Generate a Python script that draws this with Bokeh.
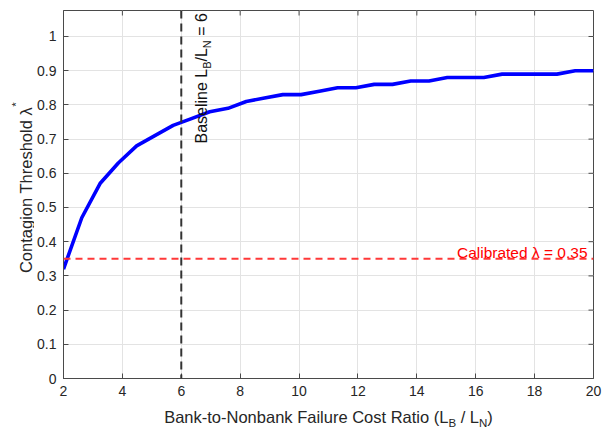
import math
from bokeh.plotting import figure
from bokeh.models import Label, Span, FixedTicker, Range1d
from bokeh.layouts import column, row
from bokeh.embed import file_html
from bokeh.resources import INLINE

# ---- data ----
cost_ratio = [2.000, 2.621, 3.241, 3.862, 4.483, 5.103, 5.724, 6.345, 6.966, 7.586,
              8.207, 8.828, 9.448, 10.069, 10.690, 11.310, 11.931, 12.552, 13.172, 13.793,
              14.414, 15.034, 15.655, 16.276, 16.897, 17.517, 18.138, 18.759, 19.379, 20.000]
threshold = [0.32, 0.47, 0.57, 0.63, 0.68, 0.71, 0.74, 0.76, 0.78, 0.79,
             0.81, 0.82, 0.83, 0.83, 0.84, 0.85, 0.85, 0.86, 0.86, 0.87,
             0.87, 0.88, 0.88, 0.88, 0.89, 0.89, 0.89, 0.89, 0.90, 0.90]
baseline_ratio = 6
calibrated_lambda = 0.35
x_ticks = [2, 4, 6, 8, 10, 12, 14, 16, 18, 20]
y_ticks = [0, 0.1, 0.2, 0.3, 0.4, 0.5, 0.6, 0.7, 0.8, 0.9, 1.0]
y_tick_labels = ["0", "0.1", "0.2", "0.3", "0.4", "0.5", "0.6", "0.7", "0.8", "0.9", "1"]

FONT = "Liberation Sans"
AX = "#262626"
FRAME = "#4a4a4a"

# Arial/Liberation Sans advance widths (per 1000 em) for laying out composed labels
W = {' ': 278, '(': 333, ')': 333, '*': 389, '-': 333, '.': 278, '/': 278, '=': 584,
     'A': 667, 'B': 667, 'C': 722, 'F': 611, 'L': 556, 'N': 722, 'R': 722, 'T': 611,
     'a': 556, 'b': 556, 'd': 556, 'e': 556, 'g': 556, 'h': 556, 'i': 222, 'k': 500,
     'l': 222, 'n': 556, 'o': 556, 'r': 333, 's': 500, 't': 278, 'u': 556, 'λ': 520}
for d in "0123456789":
    W[d] = 556


def tw(s, size):
    return sum(W.get(c, 556) for c in s) * size / 1000.0


def composed(fig, pieces, x, y, x0, y0, angle, main_size, sub_size, color=AX):
    """pieces: list of (text, kind), kind in {'n','sub','sup'}; laid along reading direction."""
    cum = 0.0
    for txt, kind in pieces:
        size = main_size if kind == "n" else sub_size
        stripped = txt.lstrip(" ")
        lead = tw(txt[:len(txt) - len(stripped)], size)
        shift = {"n": 0.0, "sub": -6.0 * main_size / 16.0, "sup": 9.0 * main_size / 16.0}[kind]
        if angle == 0:
            xo, yo = x0 + cum + lead, y0 + shift
        else:
            xo, yo = x0 - shift, y0 + cum + lead
        fig.add_layout(Label(x=x, y=y, x_offset=xo, y_offset=yo, text=stripped, angle=angle,
                             text_font=FONT, text_font_size=f"{size}px", text_color=color,
                             text_align="left", text_baseline="alphabetic"))
        cum += tw(txt, size)
    return cum


def total(pieces, ms, ss):
    return sum(tw(t, ms if k == "n" else ss) for t, k in pieces)


LW = 34  # width of the strip holding the y-axis title

# ---------------- main plot ----------------
y_top = 1.076
p = figure(width=608 - LW, height=403, x_range=Range1d(2, 20), y_range=Range1d(0, y_top),
           output_backend="svg", toolbar_location=None,
           min_border_left=63 - LW, min_border_right=15, min_border_top=10, min_border_bottom=25)
p.background_fill_color = "white"
p.border_fill_color = "white"
p.outline_line_color = FRAME
p.outline_line_width = 1

for ax in (p.xaxis[0], p.yaxis[0]):
    ax.axis_line_color = FRAME
    ax.major_tick_line_color = FRAME
    ax.major_tick_in = 5
    ax.major_tick_out = 0
    ax.minor_tick_line_color = None
    ax.major_label_text_font = FONT
    ax.major_label_text_font_size = "14px"
    ax.major_label_text_color = AX
    ax.axis_label_standoff = 0

p.xaxis[0].ticker = FixedTicker(ticks=x_ticks)
p.xaxis[0].major_label_standoff = 7
p.yaxis[0].ticker = FixedTicker(ticks=y_ticks)
p.yaxis[0].major_label_overrides = {t: l for t, l in zip(y_ticks, y_tick_labels)}
p.yaxis[0].major_label_standoff = 7

p.xgrid.ticker = FixedTicker(ticks=x_ticks)
p.ygrid.ticker = FixedTicker(ticks=y_ticks)
p.xgrid.grid_line_color = "#e3e3e3"
p.ygrid.grid_line_color = "#e3e3e3"

# inward ticks on the top and right edges of the box
p.ray(x=x_ticks, y=[y_top] * len(x_ticks), length=5, length_units="screen",
      angle=-math.pi / 2, line_color=FRAME, line_width=1)
p.ray(x=[20] * len(y_ticks), y=y_ticks, length=5, length_units="screen",
      angle=math.pi, line_color=FRAME, line_width=1)

p.line(cost_ratio, threshold, line_color="#0000ff", line_width=3.6)

p.add_layout(Span(location=baseline_ratio, dimension="height", line_color="#333333",
                  line_dash="8 5", line_width=2))
p.add_layout(Span(location=calibrated_lambda, dimension="width", line_color="#ff3838",
                  line_dash="7 5", line_width=2))

p.add_layout(Label(x=20, y=calibrated_lambda, x_offset=-6, y_offset=6.5,
                   text="Calibrated λ = 0.35", text_font=FONT, text_font_size="15.5px",
                   text_color="#ff0000", text_align="right", text_baseline="alphabetic"))

bl = [("Baseline L", "n"), ("B", "sub"), ("/L", "n"), ("N", "sub"), (" = 6", "n")]
composed(p, bl, baseline_ratio, 0.687, 20, 0, math.pi / 2, 16, 11, color="#111111")


def strip(w, h):
    f = figure(width=w, height=h, x_range=Range1d(0, w), y_range=Range1d(0, h),
               output_backend="svg", toolbar_location=None, title=None,
               x_axis_type=None, y_axis_type=None,
               min_border_left=0, min_border_right=0, min_border_top=0, min_border_bottom=0)
    f.outline_line_color = None
    f.background_fill_color = "white"
    f.border_fill_color = "white"
    f.grid.visible = False
    return f


# ---------------- y-axis title strip ----------------
ly = strip(LW, 403)
yl = [("Contagion Threshold λ", "n"), ("*", "sup")]
ms, ss = 16.5, 11.5
composed(ly, yl, 25, 209, 0, -total(yl, ms, ss) / 2, math.pi / 2, ms, ss)

# ---------------- x-axis title strip ----------------
lx = strip(608, 26)
xl = [("Bank-to-Nonbank Failure Cost Ratio (L", "n"), ("B", "sub"), (" / L", "n"),
      ("N", "sub"), (")", "n")]
composed(lx, xl, 328, 13, -total(xl, ms, ss) / 2, 0, 0, ms, ss)

layout = column(row(ly, p, spacing=0), lx, spacing=0)
open("out.html", "w").write(file_html(layout, INLINE))
